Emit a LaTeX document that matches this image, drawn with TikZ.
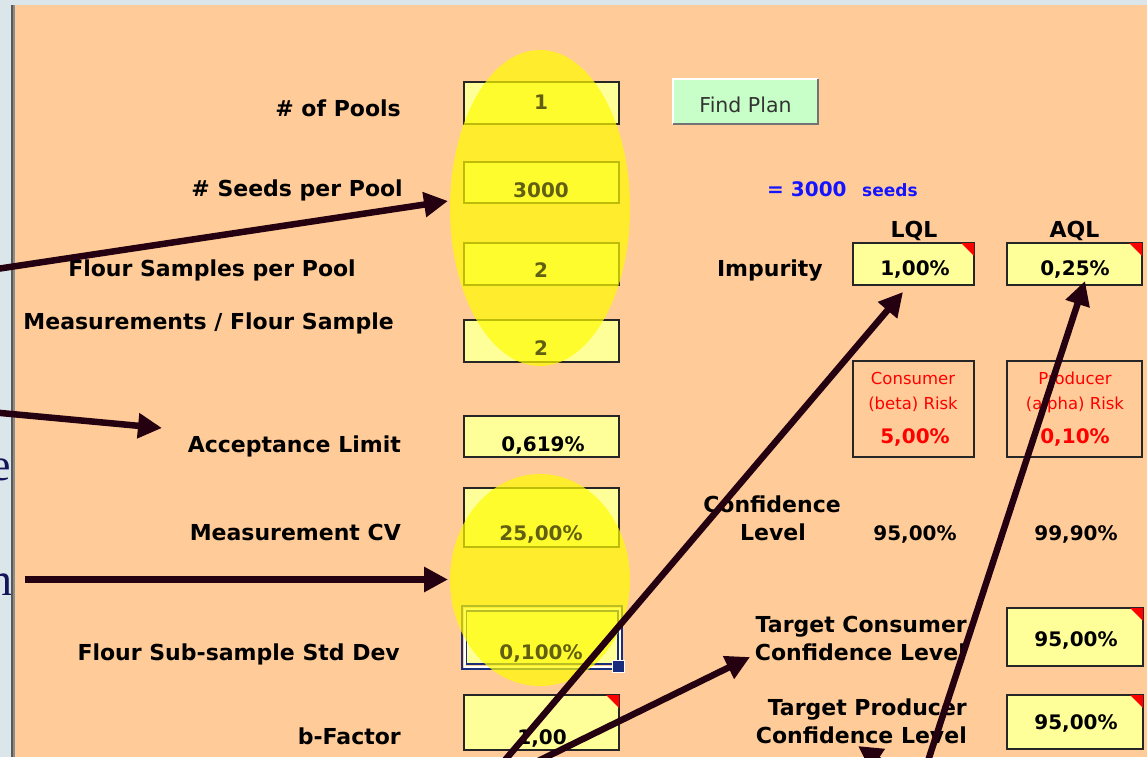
\documentclass[tikz,border=0pt]{standalone}
\usepackage{fontspec}
\setmainfont{DejaVu Sans}
\newfontfamily\seriffont{Liberation Serif}
\usetikzlibrary{arrows.meta}
\definecolor{bgblue}{RGB}{218,230,234}
\definecolor{tanbg}{RGB}{255,204,153}
\definecolor{cellyel}{RGB}{255,255,153}
\definecolor{btngreen}{RGB}{200,255,200}
\definecolor{arrowcol}{RGB}{36,0,16}
\definecolor{navytxt}{RGB}{20,20,90}
\definecolor{selblue}{RGB}{25,45,125}
\definecolor{bluetxt}{RGB}{20,20,255}
\definecolor{redtxt}{RGB}{255,0,0}
\newcommand\mycorner[1]{\fill[redtxt] ([shift={(-14pt,-1pt)}]#1.north east) -- ([shift={(-1pt,-1pt)}]#1.north east) -- ([shift={(-1pt,-14pt)}]#1.north east) -- cycle;}
\tikzset{
  lbl/.style={anchor=base east, inner sep=0pt, font=\fontsize{22}{26}\selectfont\bfseries},
  lblc/.style={anchor=base, inner sep=0pt, font=\fontsize{22}{26}\selectfont\bfseries},
  val/.style={anchor=base, inner sep=0pt, font=\fontsize{20}{24}\selectfont\bfseries},
  dimval/.style={val, text opacity=0.62},
  redsm/.style={anchor=base, inner sep=0pt, text=redtxt, font=\fontsize{16.5}{20}\selectfont},
  redbig/.style={anchor=base, inner sep=0pt, text=redtxt, font=\fontsize{20}{24}\selectfont\bfseries},
  cell/.style={draw=black!85, line width=2pt, fill=cellyel, inner sep=0pt},
  riskbox/.style={draw=black!85, line width=2pt, inner sep=0pt},
  hl/.style={fill={rgb,255:red,255;green,252;blue,0}, fill opacity=0.7},
  arr/.style={draw=arrowcol, line width=6.5pt, -{Triangle[length=24pt,width=24pt]}},
}
\begin{document}
\begin{tikzpicture}[x=1pt,y=-1pt]
\useasboundingbox (0,0) rectangle (1147,757);
\clip (0,0) rectangle (1147,757);
% backgrounds
\fill[bgblue] (0,0) rectangle (1147,757);
\fill[tanbg] (15,5) rectangle (1147,757);
% cut-off letters at the left edge (cut off in the reference too)
\node[anchor=base east, inner sep=0pt, text=navytxt, font=\seriffont\fontsize{46}{50}\selectfont] (pe) at (11,480) {e};
\node[anchor=base east, inner sep=0pt, text=navytxt, font=\seriffont\fontsize{46}{50}\selectfont] (pn) at (13,595) {n};
\fill[black!65] (11,5) rectangle (13,757);
\fill[black!45] (13,5) rectangle (15,757);

% left input cells
\node[cell, minimum width=155pt, minimum height=42pt] (c1) at (541.5,103) {};
\node[cell, minimum width=155pt, minimum height=41pt] (c2) at (541.5,182.5) {};
\node[cell, minimum width=155pt, minimum height=42pt] (c3) at (541.5,264) {};
\node[cell, minimum width=155pt, minimum height=42pt] (c4) at (541.5,341) {};
\node[cell, minimum width=155pt, minimum height=41pt] (c5) at (541.5,436.5) {};
\node[cell, minimum width=155pt, minimum height=59pt] (c6) at (541.5,517.5) {};
\node[cell, draw=selblue, line width=1.5pt, minimum width=152pt, minimum height=53pt] (c7) at (542,637.5) {};
\draw[white, line width=2pt] (464.5,608.5) rectangle (619.5,666.5);
\draw[selblue, line width=1.5pt] (462,606) rectangle (622,669);
\node[cell, minimum width=155pt, minimum height=55pt] (c8) at (541.5,722.5) {};
\mycorner{c8}

% yellow highlight ellipses
\fill[hl] (540,208) ellipse [x radius=90pt, y radius=158pt];
\fill[hl] (540,580) ellipse [x radius=90pt, y radius=106pt];
\draw[white, line width=1pt, fill=selblue] (612.5,660.5) rectangle (624,672);

% values in left cells (dimmed where the highlight covers them)
\node[dimval] (v1) at (541,110) {1};
\node[dimval] (v2) at (541,197) {3000};
\node[dimval] (v3) at (541,277) {2};
\node[dimval] (v4) at (541,355) {2};
\node[val] (v5) at (543,451) {0,619\%};
\node[dimval] (v6) at (541,540) {25,00\%};
\node[dimval] (v7) at (541,659) {0,100\%};
\node[val] (v8) at (542,744) {1,00};

% left labels
\node[lbl] (l1) at (401,117) {\# of Pools};
\node[lbl] (l2) at (403,196) {\# Seeds per Pool};
\node[lbl] (l3) at (356,276) {Flour Samples per Pool};
\node[lbl] (l4) at (394,329) {Measurements / Flour Sample};
\node[lbl] (l5) at (401,452) {Acceptance Limit};
\node[lbl] (l6) at (401,540) {Measurement CV};
\node[lbl] (l7) at (400,660) {Flour Sub-sample Std Dev};
\node[lbl] (l8) at (401,744) {b-Factor};

% Find Plan button
\node[fill=btngreen, minimum width=145pt, minimum height=45pt, inner sep=0pt] (btn) at (745.5,101.5) {};
\draw[white, line width=2pt] (btn.south west) -- (btn.north west) -- (btn.north east);
\draw[black!55, line width=2pt] (btn.north east) -- (btn.south east) -- (btn.south west);
\node[anchor=base, inner sep=0pt, text=black!80, font=\fontsize{20.5}{24}\selectfont] (btnt) at (745.5,113) {Find Plan};

% seeds total
\node[anchor=base west, inner sep=0pt, text=bluetxt, font=\fontsize{20}{24}\selectfont\bfseries] (eq) at (767,196) {= 3000};
\node[anchor=base west, inner sep=0pt, text=bluetxt, font=\fontsize{17}{20}\selectfont\bfseries] (sd) at (862,196) {seeds};

% LQL / AQL
\node[lblc] (lql) at (914,237) {LQL};
\node[lblc] (aql) at (1074.5,237) {AQL};
\node[lbl] (imp) at (823,276) {Impurity};
\node[cell, minimum width=121pt, minimum height=42pt] (cl) at (913.5,264) {};
\node[cell, minimum width=135pt, minimum height=42pt] (ca) at (1074.5,264) {};
\mycorner{cl}
\mycorner{ca}
\node[val] (vl) at (915,275) {1,00\%};
\node[val] (va) at (1075,275) {0,25\%};

% risk boxes
\node[riskbox, minimum width=121pt, minimum height=96pt] (rc) at (913.5,409) {};
\node[riskbox, minimum width=135pt, minimum height=96pt] (rp) at (1074.5,409) {};
\node[redsm] (rc1) at (913,384) {Consumer};
\node[redsm] (rc2) at (913,409) {(beta) Risk};
\node[redbig] (rc3) at (915,443) {5,00\%};
\node[redsm] (rp1) at (1075,384) {Producer};
\node[redsm] (rp2) at (1075,409) {(alpha) Risk};
\node[redbig] (rp3) at (1075,443) {0,10\%};

% confidence level
\node[lblc] (cf1) at (772,512) {Confidence};
\node[lblc] (cf2) at (773,540) {Level};
\node[val] (cfl) at (915,540) {95,00\%};
\node[val] (cfa) at (1076,540) {99,90\%};

% targets
\node[lbl] (tc1) at (967,632) {Target Consumer};
\node[lbl] (tc2) at (966,660) {Confidence Level};
\node[lbl] (tp1) at (967,715) {Target Producer};
\node[lbl] (tp2) at (967,743) {Confidence Level};
\node[cell, minimum width=136pt, minimum height=58pt] (ct1) at (1075,637) {};
\node[cell, minimum width=136pt, minimum height=54pt] (ct2) at (1075,722) {};
\mycorner{ct1}
\mycorner{ct2}
\node[val] (vt1) at (1076,646) {95,00\%};
\node[val] (vt2) at (1076,729) {95,00\%};

% arrows
\coordinate (a1s) at (-10,270);
\coordinate (a1e) at (448,201);
\coordinate (a2s) at (-10,412);
\coordinate (a2e) at (162,428);
\coordinate (a3s) at (25,579.5);
\coordinate (a3e) at (448,579.5);
\coordinate (a4s) at (500,766);
\coordinate (a4e) at (903,292);
\coordinate (a5s) at (925,770);
\coordinate (a5e) at (1085,281);
\coordinate (a6s) at (530,765);
\coordinate (a6e) at (750,657);
\coordinate (a7s) at (905,778);
\coordinate (a7e) at (858,746);
\draw[arr] (a1s) -- (a1e);
\draw[arr] (a2s) -- (a2e);
\draw[arr] (a3s) -- (a3e);
\draw[arr] (a4s) -- (a4e);
\draw[arr] (a5s) -- (a5e);
\draw[arr] (a6s) -- (a6e);
\draw[arr] (a7s) -- (a7e);
\end{tikzpicture}
\end{document}
